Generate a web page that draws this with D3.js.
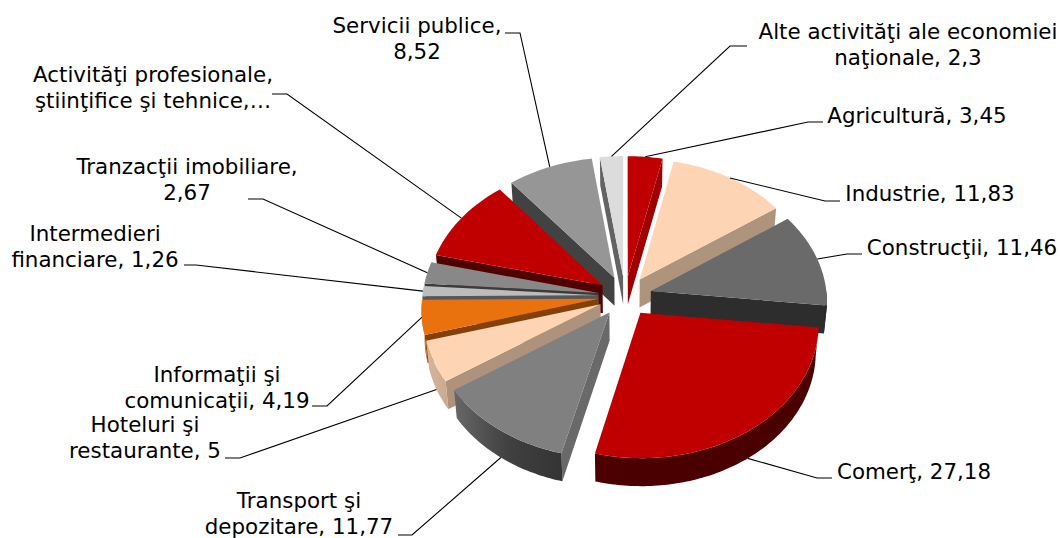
<!DOCTYPE html>
<html><head><meta charset="utf-8">
<script src="https://cdn.jsdelivr.net/npm/d3@7"></script>
<style>html,body{margin:0;background:#fff}svg{display:block}text{font-family:"DejaVu Sans",Verdana,sans-serif;font-size:21.4px;fill:#000}</style>
</head><body><svg id="c" width="1060" height="538"></svg>
<script>
const categories=["Agricultură","Industrie","Construcţii","Comerţ","Transport şi depozitare","Hoteluri şi restaurante","Informaţii şi comunicaţii","Intermedieri financiare","Tranzacţii imobiliare","Activităţi profesionale, ştiinţifice şi tehnice","Servicii publice","Alte activităţi ale economiei naţionale"];
const values=[3.45,11.83,11.46,27.18,11.77,5,4.19,1.26,2.67,10.37,8.52,2.3];
const labelLines=[["Agricultură, 3,45"],["Industrie, 11,83"],["Construcţii, 11,46"],["Comerţ, 27,18"],["Transport şi","depozitare, 11,77"],["Hoteluri şi","restaurante, 5"],["Informaţii şi","comunicaţii, 4,19"],["Intermedieri","financiare, 1,26"],["Tranzacţii imobiliare,","2,67"],["Activităţi profesionale,","ştiinţifice şi tehnice,…"],["Servicii publice,","8,52"],["Alte activităţi ale economiei","naţionale, 2,3"]];
const topColors=["#c00000","#fdd5b4","#6a6a6a","#c00000","#808080","#fdd5b4","#e9720f","#bcbcbc","#888888","#c00000","#969696","#dcdcdc"];
// label layout: centre x, first baseline, elbow x, elbow y, elbow-start x
const labelLayout=[[917,123,808,122,823],[930,201,825,201,840],[962,255,847,254,862],[914,479,817,478,832],[299,508,412,535,398],[145,432,240,458,225],[217,382,327,406,312],[95,241,196,265,184],[187,174,263,199,248],[153,82,287,94,272],[417,33,520,33,505],[908,39,730,46,747]];

const svg=d3.select("#c");
const defs=svg.append("defs");
const cx=625,cy=296,Rx=176,Ry=132,persp=.075,depth=28,explode=.152,baseScale=.985;
const xS=d3.scaleLinear().domain([-1,1]).range([cx-Rx,cx+Rx]);
const yS=d3.scaleLinear().domain([-1,1]).range([cy-Ry,cy+Ry]);
const radial=d3.scaleLinear().domain([100,146,186,260]).range([.83,.69,.42,.45]).clamp(true);
const outer=d3.scaleLinear().domain([96,190,215,236,255,300]).range([.39,.39,.5,.8,.85,.85]).clamp(true);
const deg=Math.PI/180;
const pie=d3.pie().sort(null).value(d=>d)(values);
const line=d3.line().x(d=>d[0]).y(d=>d[1]);
function proj(X,Y,top){
  const s=1/(1-persp*Y), b=top?1:baseScale;
  return [cx+(xS(X)-cx)*s*b, cy+(yS(Y)-cy)*s+(top?0:depth)];
}
function pt(d,a,r,top){
  const m=(d.startAngle+d.endAngle)/2;
  return proj(explode*Math.sin(m)+r*Math.sin(a),-explode*Math.cos(m)-r*Math.cos(a),top);
}
function rim(d,top,a0=d.startAngle,a1=d.endAngle){
  const n=Math.max(2,Math.ceil((a1-a0)/deg));
  return d3.range(n+1).map(i=>pt(d,a0+(a1-a0)*i/n,1,top));
}
function shade(c,f){const k=d3.rgb(c);return d3.rgb(k.r*f,k.g*f,k.b*f).formatRgb();}
function wall(g,pts,fill){g.append("path").attr("d",line(pts)+"Z").attr("fill",fill);}
const order=pie.map((d,i)=>({d,i,c:Math.cos((d.startAngle+d.endAngle)/2)})).sort((a,b)=>b.c-a.c);
const gPie=svg.append("g");
order.forEach(({d,i})=>{
  const g=gPie.append("g"),col=topColors[i];
  const a0=d.startAngle,a1=d.endAngle;
  const sN=(a0/deg-90+360)%360,eN=(a1/deg+90)%360;
  const faces=[];
  if(Math.cos(sN*deg)<0)faces.push([a0,sN]);
  if(Math.cos(eN*deg)<0)faces.push([a1,eN]);
  faces.forEach(([a,n])=>{
    wall(g,[pt(d,0,0,true),pt(d,a,1,true),pt(d,a,1,false),pt(d,0,0,false)],shade(col,radial(n)));
  });
  // outer wall: only the part of the rim facing the viewer, shaded along its length
  const v0=Math.max(a0,Math.PI/2),v1=Math.min(a1,Math.PI*1.5);
  if(v1>v0){
    const t=rim(d,true,v0,v1),u=rim(d,false,v0,v1);
    const xa=t[0][0],xb=t[t.length-1][0];
    const grad=defs.append("linearGradient").attr("id","w"+i).attr("gradientUnits","userSpaceOnUse")
      .attr("x1",xa).attr("x2",xb).attr("y1",0).attr("y2",0);
    d3.range(9).forEach(k=>{
      const a=v0+(v1-v0)*k/8;
      grad.append("stop").attr("offset",k/8).attr("stop-color",shade(col,outer(a/deg)));
    });
    wall(g,t.concat(u.reverse()),"url(#w"+i+")");
  }
  g.append("path").attr("d",line([pt(d,0,0,true),...rim(d,true)])+"Z").attr("fill",col);
});
const gLab=svg.append("g");
pie.forEach((d,i)=>{
  const [tx,ty,ex,ey,sx]=labelLayout[i];
  const m=(d.startAngle+d.endAngle)/2;
  const front=Math.cos(m)<-.35;
  const a=pt(d,m,1,!front);
  gLab.append("path").attr("d",line([[sx,ey],[ex,ey],a])).attr("fill","none").attr("stroke","#000").attr("stroke-width",1.1);
  labelLines[i].forEach((s,j)=>gLab.append("text").attr("x",tx).attr("y",ty+j*26).attr("text-anchor","middle").text(s));
});
</script></body></html>
